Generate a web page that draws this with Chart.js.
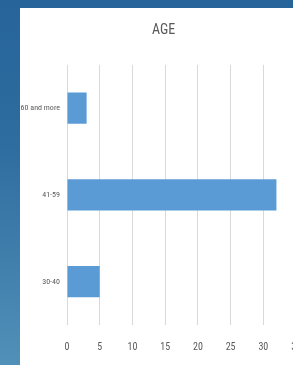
<!DOCTYPE html>
<html>
<head>
<meta charset="utf-8">
<script src="https://cdn.jsdelivr.net/npm/chart.js@4"></script>
<style>
html, body { margin: 0; padding: 0; width: 293px; height: 365px; overflow: hidden; }
body { background: linear-gradient(to bottom, #26649a 0%, #2e6d9f 40%, #5190b8 100%); position: relative; }
#panel { position: absolute; left: 20px; top: 8px; width: 300px; height: 360px; background: #fff; }
#chart { position: absolute; left: 20px; top: 8px; }
</style>
</head>
<body>
<div id="panel"></div>
<canvas id="chart" width="297" height="361"></canvas>
<script>
var categories = ['60 and more', '41-59', '30-40'];
var counts = [3, 32, 5];
var xTicks = [0, 5, 10, 15, 20, 25, 30, 35];

var font = '"Roboto Condensed", "DejaVu Sans Condensed", sans-serif';

function draw() {
	var c = new Chart(document.getElementById('chart'), {
		type: 'bar',
		data: {
			labels: categories,
			datasets: [{
				label: 'AGE',
				data: counts,
				backgroundColor: '#5b9bd5',
				borderWidth: 0,
				barPercentage: 0.45,
				categoryPercentage: 0.8
			}]
		},
		options: {
			indexAxis: 'y',
			responsive: false,
			animation: false,
			layout: { padding: { top: 0, right: 10, bottom: 0, left: 0 } },
			plugins: {
				legend: { display: false },
				tooltip: { enabled: false },
				title: {
					display: true,
					text: 'AGE',
					color: '#595959',
					font: { family: font, size: 14, weight: 'normal' },
					padding: { top: 14, bottom: 26 }
				}
			},
			scales: {
				x: {
					min: 0,
					max: 35,
					afterBuildTicks: function (s) { s.ticks = xTicks.map(function (v) { return { value: v }; }); },
					grid: { color: '#d9d9d9', drawTicks: false },
					border: { display: false },
					ticks: { color: '#595959', font: { family: font, size: 10 }, padding: 16, maxRotation: 0 }
				},
				y: {
					afterFit: function (s) { s.width = 47; },
					grid: { display: false, drawTicks: false },
					border: { display: false },
					ticks: { color: '#595959', font: { family: font, size: 8 }, padding: 7 }
				}
			}
		}
	});
}
draw();
</script>
</body>
</html>
